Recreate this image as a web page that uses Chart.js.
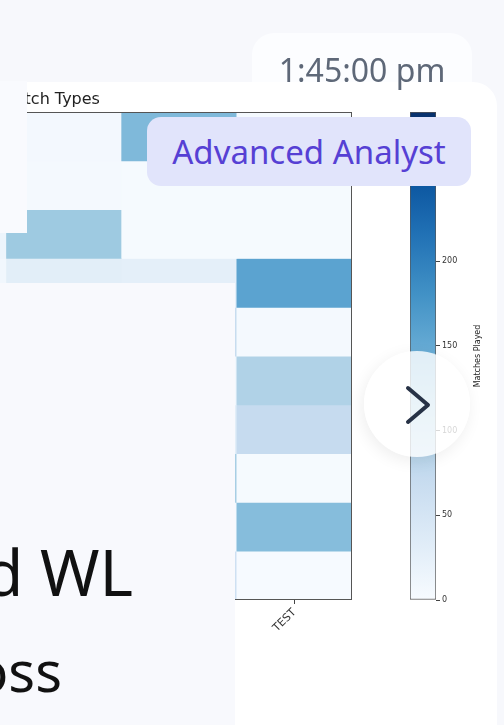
<!DOCTYPE html>
<html>
<head>
<meta charset="utf-8">
<script src="https://cdn.jsdelivr.net/npm/chart.js@4.4.1/dist/chart.umd.min.js"></script>
<style>
  html, body { margin: 0; padding: 0; }
  body {
    width: 504px; height: 725px; overflow: hidden; position: relative;
    background: #f7f8fc; font-family: "Noto Sans", sans-serif;
  }
  .box { position: absolute; }
  .time-card { left: 252px; top: 33px; width: 220px; height: 90px; background: #fcfdff; border-radius: 22px; }
  .main-card { left: -30px; top: 82px; width: 527px; height: 700px; background: #fff; border-radius: 24px; }
  #heatWrap { left: -345px; top: 60px; width: 705px; height: 600px; }
  #scaleWrap { left: 400px; top: 100px; width: 100px; height: 510px; }
  .side-top { left: 0; top: 81px; width: 27px; height: 152px; background: #f9fafe; }
  .side-bottom { left: 0; top: 283px; width: 235px; height: 442px; background: #f8f9fd; }
  .time { left: 252px; top: 50px; width: 220px; height: 40px; line-height: 40px; font-size: 32px; color: #5e6878; text-align: center; }
  .badge { left: 147px; top: 117px; width: 324px; height: 69px; line-height: 69px; background: #e1e4fb; border-radius: 14px; color: #5640d4; font-size: 33px; text-align: center; }
  .nav { left: 364px; top: 351px; width: 106px; height: 106px; border-radius: 50%; background: rgba(255,255,255,0.8); box-shadow: -2px 4px 16px rgba(0,0,0,0.07); }
  .big { white-space: nowrap; text-align: right; color: #111; }
  .wl { left: -300px; top: 540px; width: 433px; height: 64px; line-height: 64px; font-size: 64px; }
  .loss { left: -300px; top: 642px; width: 362px; height: 56px; line-height: 56px; font-size: 56px; }
</style>
</head>
<body>
<div class="box time-card"></div>
<div class="box main-card"></div>
<div class="box" id="heatWrap"><canvas id="heat"></canvas></div>
<div class="box" id="scaleWrap"><canvas id="scale"></canvas></div>
<div class="box side-top"></div>
<div class="box side-bottom"></div>
<div class="box big wl">Combined WL</div>
<div class="box big loss">Win / Loss</div>
<div class="box time">1:45:00 pm</div>
<div class="box badge">Advanced Analyst</div>
<div class="box nav">
  <svg width="106" height="106"><polyline points="44,37 64,54 44,71" fill="none" stroke="#273246" stroke-width="4" stroke-linecap="round" stroke-linejoin="round"/></svg>
</div>
<script>
const matchTypes = ["FC", "LIST A", "IPL", "ODI", "T20I", "TEST"]
const players = ["Player A", "Player B", "Player C", "Player D", "Player E",
                 "Player F", "Player G", "Player H", "Player I", "Player J"]

// matches played per player, one array per match type (rows top to bottom)
const fcMatches    = [210, 180, 95, 60, 288, 140, 40, 120, 75, 30]
const listAMatches = [150, 120, 70, 45, 190, 80, 25, 90, 60, 15]
const iplMatches   = [35, 60, 14, 9, 110, 20, 45, 140, 5, 70]
const odiMatches   = [6, 5, 108, 30, 160, 12, 40, 150, 8, 90]
const t20iMatches  = [130, 3, 3, 28, 70, 10, 30, 100, 5, 60]
const testMatches  = [4, 3, 3, 158, 4, 92, 72, 3, 125, 2]

const colorMax = 288
const colorTicks = [0, 50, 100, 150, 200, 250]

const matches = [fcMatches, listAMatches, iplMatches, odiMatches, t20iMatches, testMatches]

const BLUES = [
  [247, 251, 255], [222, 235, 247], [198, 219, 239], [158, 202, 225], [107, 174, 214],
  [66, 146, 198], [33, 113, 181], [8, 81, 156], [8, 48, 107]
]

function blues(t) {
  t = Math.max(0, Math.min(1, t))
  const pos = t * (BLUES.length - 1)
  const i = Math.min(Math.floor(pos), BLUES.length - 2)
  const f = pos - i
  const c = BLUES[i].map((v, k) => Math.round(v + (BLUES[i + 1][k] - v) * f))
  return `rgb(${c[0]},${c[1]},${c[2]})`
}

const frame = {
  id: "frame",
  afterDatasetsDraw(chart) {
    const { ctx, chartArea: a } = chart
    ctx.save()
    ctx.strokeStyle = "#555"
    ctx.lineWidth = 1
    ctx.strokeRect(Math.round(a.left) + 0.5, Math.round(a.top) + 0.5,
      Math.round(a.right - a.left) - 1, Math.round(a.bottom - a.top) - 1)
    ctx.restore()
  }
}

new Chart(document.getElementById("heat"), {
  type: "bar",
  data: {
    labels: matchTypes,
    datasets: players.map((player, r) => ({
      label: player,
      data: matchTypes.map(() => [r, r + 1]),
      backgroundColor: matches.map((col) => blues(col[r] / colorMax)),
      borderWidth: 0,
      grouped: false,
      barPercentage: 1,
      categoryPercentage: 1
    }))
  },
  options: {
    responsive: true,
    maintainAspectRatio: false,
    animation: false,
    layout: { padding: { left: 6, right: 8, top: 0, bottom: 0 } },
    plugins: {
      legend: { display: false },
      tooltip: { enabled: false },
      title: {
        display: true,
        text: "Players by Match Types",
        fullSize: false,
        color: "#222",
        font: { family: "DejaVu Sans", size: 16, weight: "normal" },
        padding: { top: 30, bottom: 3 }
      }
    },
    scales: {
      x: {
        grid: { display: true, drawOnChartArea: false, drawTicks: true, tickLength: 4, offset: false, color: "#444" },
        border: { display: false },
        ticks: { color: "#333", font: { family: "DejaVu Sans", size: 11 }, minRotation: 45, maxRotation: 45, padding: 2 },
        afterFit: (scale) => { scale.height = 60 }
      },
      y: { display: false, min: 0, max: players.length, reverse: true }
    }
  },
  plugins: [frame]
})

const scaleLabel = {
  id: "scaleLabel",
  afterDraw(chart) {
    const { ctx, chartArea: a } = chart
    ctx.save()
    ctx.translate(a.right + 42, (a.top + a.bottom) / 2)
    ctx.rotate(-Math.PI / 2)
    ctx.font = "8px 'DejaVu Sans'"
    ctx.fillStyle = "#222"
    ctx.textAlign = "center"
    ctx.textBaseline = "middle"
    ctx.fillText("Matches Played", 0, 0)
    ctx.restore()
  }
}

new Chart(document.getElementById("scale"), {
  type: "bar",
  data: {
    labels: ["Matches Played"],
    datasets: [{
      data: [[0, colorMax]],
      backgroundColor: (c) => {
        const area = c.chart.chartArea
        if (!area) return null
        const g = c.chart.ctx.createLinearGradient(0, area.bottom, 0, area.top)
        BLUES.forEach((rgb, i) => g.addColorStop(i / (BLUES.length - 1), `rgb(${rgb.join(",")})`))
        return g
      },
      borderColor: "#555",
      borderWidth: 1,
      borderSkipped: false,
      barPercentage: 1,
      categoryPercentage: 1
    }]
  },
  options: {
    responsive: true,
    maintainAspectRatio: false,
    animation: false,
    layout: { padding: { left: 10, right: 0, top: 12, bottom: 10 } },
    plugins: { legend: { display: false }, tooltip: { enabled: false } },
    scales: {
      x: { display: false },
      y: {
        position: "right",
        min: 0,
        max: colorMax,
        afterBuildTicks: (scale) => { scale.ticks = colorTicks.map((v) => ({ value: v })) },
        ticks: { color: "#333", font: { family: "DejaVu Sans", size: 8 }, padding: 2 },
        grid: { drawOnChartArea: false, tickLength: 4, color: "#444" },
        border: { display: false },
        afterFit: (scale) => { scale.width = 64 }
      }
    }
  },
  plugins: [scaleLabel]
})
</script>
</body>
</html>
